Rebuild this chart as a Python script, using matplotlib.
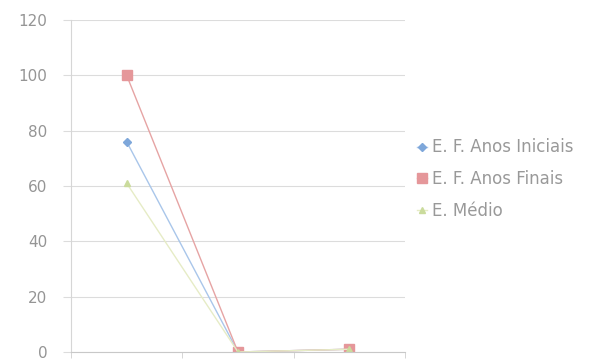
import matplotlib.pyplot as plt
from matplotlib.ticker import FixedLocator

plt.rcParams['font.family'] = ['DejaVu Sans']

categorias = ['1', '2', '3']
anos_iniciais = [76, 0, 1]
anos_finais = [100, 0, 1]
medio = [61, 0, 1]
series = ['E. F. Anos Iniciais', 'E. F. Anos Finais', 'E. Médio']

fig = plt.figure(figsize=(5.96, 3.61), dpi=100)
ax = fig.add_axes([71 / 596, 9 / 361, 334 / 596, 332 / 361])

x = list(range(len(categorias)))
ax.plot(x, anos_iniciais, color='#a9c6ea', marker='D', markersize=4,
        markerfacecolor='#7ea7da', markeredgecolor='#7ea7da', lw=1, label=series[0])
ax.plot(x, anos_finais, color='#e6a4a4', marker='s', markersize=7,
        markerfacecolor='#e5979a', markeredgecolor='#e5979a', lw=1, label=series[1])
ax.plot(x, medio, color='#e6ecc6', marker='^', markersize=4.5,
        markerfacecolor='#cadb9c', markeredgecolor='#cadb9c', lw=1, label=series[2])

ax.set_xlim(-0.5, len(categorias) - 0.5)
ax.set_ylim(0, 120)
ax.set_yticks(range(0, 121, 20))
ax.set_xticks([])
ax.xaxis.set_minor_locator(FixedLocator([-0.5, 0.5, 1.5, 2.5]))
ax.tick_params(axis='x', which='minor', length=4, color='#cfcfcf', direction='out')
ax.tick_params(axis='y', length=6, color='#dcdcdc', labelsize=11,
               labelcolor='#959595', pad=11)
ax.grid(axis='y', color='#dcdcdc', lw=0.8)
ax.set_axisbelow(True)
for s in ['top', 'right']:
    ax.spines[s].set_visible(False)
ax.spines['left'].set_color('#d6d6d6')
ax.spines['bottom'].set_color('#c8c8c8')

ax.legend(loc='center left', bbox_to_anchor=(1.0, 0.521), frameon=False,
          fontsize=12, labelcolor='#999999', handlelength=0.6,
          handletextpad=0.35, labelspacing=0.82, borderaxespad=0.3)

fig.savefig('out.png', dpi=100)
